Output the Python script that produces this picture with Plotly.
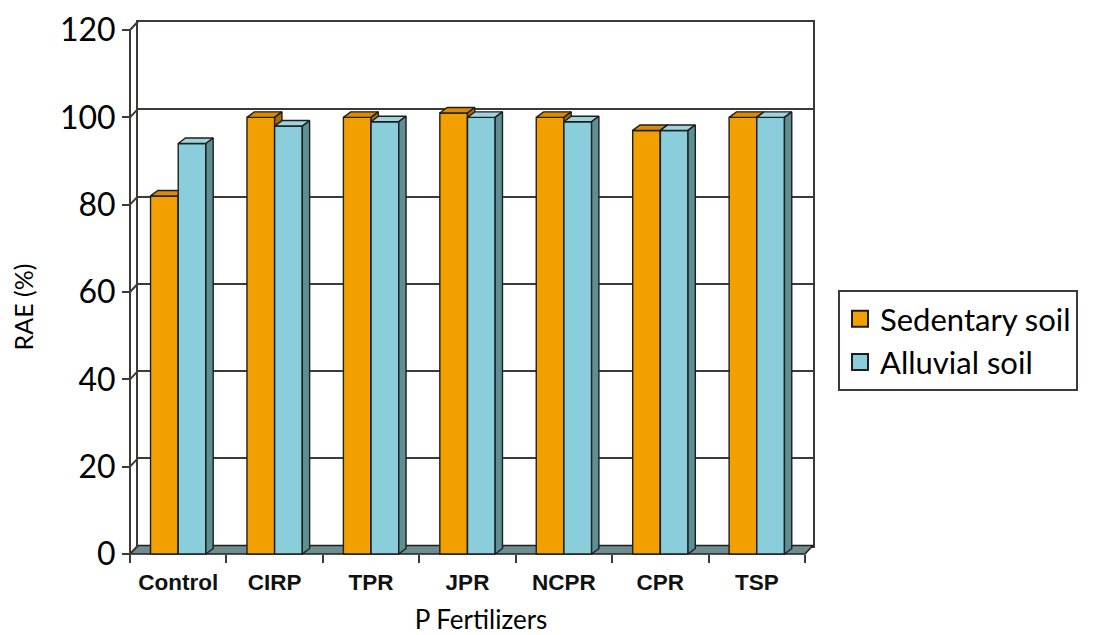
import plotly.graph_objects as go

# ---------------- data ----------------
categories = ["Control", "CIRP", "TPR", "JPR", "NCPR", "CPR", "TSP"]
sedentary = [82, 100, 100, 101, 100, 97, 100]
alluvial = [94, 98, 99, 100, 99, 97, 100]
y_ticks = [0, 20, 40, 60, 80, 100, 120]
series_names = ["Sedentary soil", "Alluvial soil"]
x_title = "P Fertilizers"
y_title = "RAE (%)"

# ---------------- styling / geometry ----------------
PAGE_OFF = 8                      # default body margin of the html page
W, H = 1095 - PAGE_OFF, 635 - PAGE_OFF
ML, MR, MT, MB = 90, 190, 5, 25
PW, PH = W - ML - MR, H - MT - MB


def fx(px):
    return (px - PAGE_OFF - ML) / PW


def fy(py):
    return (H - MB - (py - PAGE_OFF)) / PH


n = len(categories)
X_LEFT_PX, X_RIGHT_PX = 130, 805      # front plane (screen px)
Y0_PX, YTOP_PX = 554, 30              # front plane 0 and 120
PX = (X_RIGHT_PX - X_LEFT_PX) / n
PY = (Y0_PX - YTOP_PX) / 120
BAR_W = 0.287
BDX, BDY = 7.3 / PX, 5.5 / PY         # bar depth
WDX, WDY = 8 / PX, 8.5 / PY           # wall depth

FRONT_DOM_X = (122, 840)
FRONT_DOM_Y = (599, 15)
RX = [-0.5 - (X_LEFT_PX - FRONT_DOM_X[0]) / PX, -0.5 + (FRONT_DOM_X[1] - X_LEFT_PX) / PX]
RY = [-(FRONT_DOM_Y[0] - Y0_PX) / PY, (Y0_PX - FRONT_DOM_Y[1]) / PY]

ORANGE = dict(front="#F29F00", top="#DB8B00", side="#B06A00")
BLUE = dict(front="#8ACDDB", top="#9FD4DF", side="#5E8F92")
FLOOR = "#6F8C8E"
EDGE = "#1E1E1E"
WALL = "#3E3838"
TICKFONT = dict(family="Lato, sans-serif", size=32, color="#000")


def poly_faces(values, offset):
    tp_x, tp_y, sd_x, sd_y = [], [], [], []
    for i, v in enumerate(values):
        xl = i + offset
        xr = xl + BAR_W
        tp_x += [xl, xr, xr + BDX, xl + BDX, xl, None]
        tp_y += [v, v, v + BDY, v + BDY, v, None]
        sd_x += [xr, xr, xr + BDX, xr + BDX, xr, None]
        sd_y += [0, v, v + BDY, BDY, 0, None]
    return (tp_x, tp_y), (sd_x, sd_y)


fig = go.Figure()

# back wall subplot (xy) - needs a trace to exist
fig.add_trace(go.Scatter(x=[None], y=[None], xaxis="x", yaxis="y",
                         showlegend=False, hoverinfo="skip"))

# floor + left wall (x2y2)
left, right = -0.5, n - 0.5
fig.add_trace(go.Scatter(
    x=[left, right, right + WDX, left + WDX, left],
    y=[0, 0, WDY, WDY, 0],
    fill="toself", fillcolor=FLOOR, mode="lines",
    line=dict(color=EDGE, width=1.5),
    xaxis="x2", yaxis="y2", showlegend=False, hoverinfo="skip"))
cx, cy = [], []
for v in y_ticks:
    cx += [left, left + WDX, None]
    cy += [v, v + WDY, None]
cx += [left, left, None]
cy += [0, y_ticks[-1], None]
fig.add_trace(go.Scatter(x=cx, y=cy, mode="lines",
                         line=dict(color=WALL, width=2),
                         xaxis="x2", yaxis="y2", showlegend=False, hoverinfo="skip"))

# series: each in its own overlaid subplot for correct painter's order
for vals, offset, col, name, ax in [
    (sedentary, -BAR_W, ORANGE, series_names[0], "3"),
    (alluvial, 0.0, BLUE, series_names[1], "4"),
]:
    fig.add_trace(go.Bar(
        x=list(range(n)), y=vals, width=BAR_W, offset=offset,
        marker=dict(color=col["front"], line=dict(color=EDGE, width=1.4)),
        name=name, showlegend=False,
        xaxis="x" + ax, yaxis="y" + ax))
    top, side = poly_faces(vals, offset)
    for (px_, py_), c in [(top, col["top"]), (side, col["side"])]:
        fig.add_trace(go.Scatter(
            x=px_, y=py_, fill="toself", fillcolor=c, mode="lines",
            line=dict(color=EDGE, width=1.4),
            xaxis="x" + ax, yaxis="y" + ax, showlegend=False, hoverinfo="skip"))

# legend entries
for name, col in zip(series_names, [ORANGE, BLUE]):
    fig.add_trace(go.Scatter(
        x=[None], y=[None], mode="markers", name=name,
        marker=dict(symbol="square", size=16, color=col["front"],
                    line=dict(color=EDGE, width=2)),
        xaxis="x4", yaxis="y4"))

hidden = dict(visible=False, range=RX, domain=[fx(FRONT_DOM_X[0]), fx(FRONT_DOM_X[1])])
hidden_y = dict(visible=False, range=RY, domain=[fy(FRONT_DOM_Y[0]), fy(FRONT_DOM_Y[1])])

fig.update_layout(
    width=W, height=H, autosize=False,
    margin=dict(l=ML, r=MR, t=MT, b=MB, pad=0, autoexpand=False),
    paper_bgcolor="white", plot_bgcolor="rgba(0,0,0,0)",
    showlegend=True,
    legend=dict(xref="container", yref="container",
                x=(838 - PAGE_OFF) / W, y=1 - (290 - PAGE_OFF) / H,
                xanchor="left", yanchor="top",
                bordercolor=WALL, borderwidth=2, bgcolor="white",
                font=dict(family="Lato, sans-serif", size=31, color="#000"),
                tracegroupgap=0, itemwidth=30),
    xaxis=dict(domain=[fx(138), fx(813)], range=[0, 1], anchor="y",
               showgrid=False, zeroline=False, showticklabels=False, ticks="",
               showline=True, mirror=True, linecolor=WALL, linewidth=2),
    yaxis=dict(domain=[fy(545.5), fy(22)], range=[0, 120], anchor="x",
               tickmode="array", tickvals=y_ticks,
               showgrid=True, gridcolor=WALL, gridwidth=2, zeroline=False,
               showticklabels=False, ticks="",
               showline=True, mirror=True, linecolor=WALL, linewidth=2),
    xaxis2=dict(domain=[fx(FRONT_DOM_X[0]), fx(FRONT_DOM_X[1])], range=RX,
                anchor="free", position=fy(Y0_PX),
                tickmode="array", tickvals=list(range(n)), ticktext=categories,
                ticks="outside", ticklen=8, tickcolor="rgba(0,0,0,0)",
                tickfont=dict(family="Liberation Sans, Arial, sans-serif", size=22.5,
                              color="#111", weight="bold"),
                minor=dict(tickmode="array", tickvals=[i - 0.5 for i in range(n + 1)],
                           ticks="outside", ticklen=8, tickwidth=2, tickcolor=WALL,
                           showgrid=False),
                showgrid=False, zeroline=False, showline=False,
                title=dict(text=x_title, standoff=19,
                           font=dict(family="Lato, sans-serif", size=26, color="#000"))),
    yaxis2=dict(domain=[fy(FRONT_DOM_Y[0]), fy(FRONT_DOM_Y[1])], range=RY,
                anchor="free", position=fx(X_LEFT_PX),
                tickmode="array", tickvals=y_ticks,
                ticks="outside", ticklen=8, tickwidth=2, tickcolor=WALL,
                tickfont=TICKFONT,
                showgrid=False, zeroline=False, showline=False,
                title=dict(text=y_title, standoff=18,
                           font=dict(family="Lato, sans-serif", size=25, color="#000"))),
    xaxis3=dict(hidden, anchor="y3"), yaxis3=dict(hidden_y, anchor="x3"),
    xaxis4=dict(hidden, anchor="y4"), yaxis4=dict(hidden_y, anchor="x4"),
)

fig.write_html("out.html")
